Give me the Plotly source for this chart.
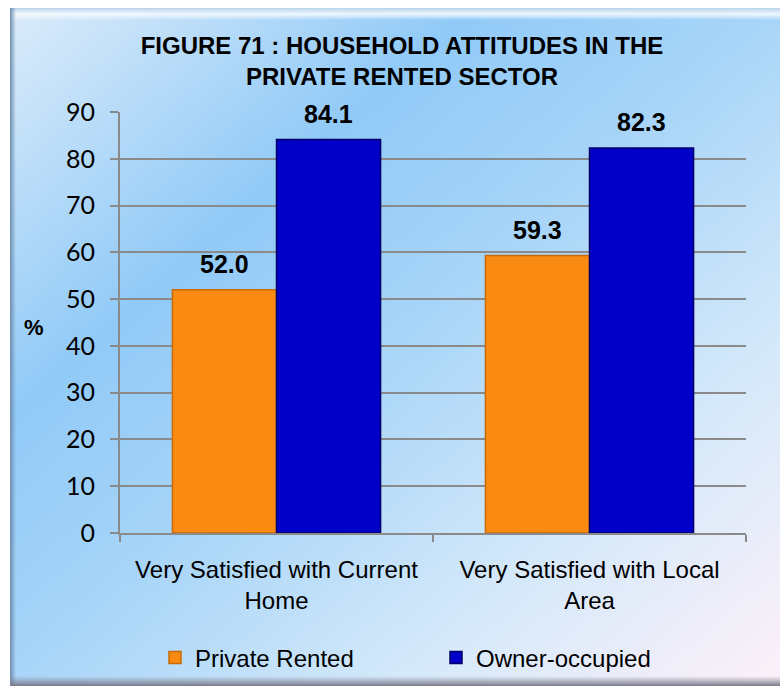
import base64
import plotly.graph_objects as go

categories = ["Very Satisfied with Current<br>Home", "Very Satisfied with Local<br>Area"]
private_rented = [52.0, 59.3]
owner_occupied = [84.1, 82.3]
series_names = ["Private Rented", "Owner-occupied"]
y_ticks = [0, 10, 20, 30, 40, 50, 60, 70, 80, 90]
title_text = "FIGURE 71 : HOUSEHOLD ATTITUDES IN THE<br>PRIVATE RENTED SECTOR"

W, H = 780, 686
ML, MR, MT, MB = 120, 34, 112, 153
PW = W - ML - MR
PH = H - MT - MB

# background panel (gradient) as SVG
svg = f"""<svg xmlns='http://www.w3.org/2000/svg' width='770' height='678' viewBox='0 0 770 678' preserveAspectRatio='none'>
<defs>
<linearGradient id='g' x1='0' y1='0' x2='1' y2='1'>
<stop offset='0' stop-color='#dcecfa'/>
<stop offset='0.3' stop-color='#91caf7'/>
<stop offset='0.5' stop-color='#a8d5f8'/>
<stop offset='0.75' stop-color='#d5e9fa'/>
<stop offset='1' stop-color='#fdf0f8'/>
</linearGradient>
<linearGradient id='l' x1='0' y1='0' x2='1' y2='0'>
<stop offset='0' stop-color='#6f8fb0' stop-opacity='1'/>
<stop offset='1' stop-color='#6f8fb0' stop-opacity='0'/>
</linearGradient>
<linearGradient id='b' x1='0' y1='0' x2='0' y2='1'>
<stop offset='0' stop-color='#8a8a9a' stop-opacity='0'/>
<stop offset='1' stop-color='#7a7a8a' stop-opacity='1'/>
</linearGradient>
<linearGradient id='t' x1='0' y1='0' x2='0' y2='1'>
<stop offset='0' stop-color='#b8d2ea' stop-opacity='1'/>
<stop offset='0.5' stop-color='#f4faff' stop-opacity='0.9'/>
<stop offset='1' stop-color='#ffffff' stop-opacity='0'/>
</linearGradient>
</defs>
<rect x='0' y='0' width='770' height='678' fill='url(#g)'/>
<rect x='0' y='0' width='770' height='12' fill='url(#t)'/>
<rect x='0' y='0' width='6' height='678' fill='url(#l)'/>
<rect x='0' y='668' width='770' height='10' fill='url(#b)'/>
</svg>"""
svg_uri = "data:image/svg+xml;base64," + base64.b64encode(svg.encode()).decode()

def px_x(px):
    return (px - ML) / PW

def px_y(py):
    return (H - MB - py) / PH

fig = go.Figure()
colors = ["#F98B12", "#0000C8"]
line_colors = ["#C86A08", "#000066"]
for name, vals, c, lc in zip(series_names, [private_rented, owner_occupied], colors, line_colors):
    fig.add_trace(go.Bar(
        x=categories, y=vals, name=name,
        marker=dict(color=c, line=dict(color=lc, width=1.5)),
    ))

# data labels
bar_px = PW / len(categories) * (1 - 0.335) / 2
for i, vals in enumerate([private_rented, owner_occupied]):
    shift = (i - 0.5) * bar_px
    for cat, v in zip(categories, vals):
        fig.add_annotation(
            x=cat, y=v, text=f"<b>{v:.1f}</b>", showarrow=False,
            xshift=shift, yshift=10, yanchor="bottom",
            font=dict(family="Liberation Sans, Arial", size=25, color="#000000"),
        )

fig.add_annotation(
    x=px_x(34), y=px_y(327), xref="paper", yref="paper",
    xanchor="center", yanchor="middle",
    text="<b>%</b>", showarrow=False,
    font=dict(family="Liberation Sans, Arial", size=22, color="#000000"),
)

fig.add_layout_image(
    source=svg_uri, xref="paper", yref="paper",
    x=px_x(10), y=px_y(8), sizex=770 / PW, sizey=678 / PH,
    xanchor="left", yanchor="top", sizing="stretch", layer="below",
)

fig.update_layout(
    width=W, height=H,
    margin=dict(l=ML, r=MR, t=MT, b=MB, pad=0, autoexpand=False),
    paper_bgcolor="#ffffff",
    plot_bgcolor="rgba(0,0,0,0)",
    barmode="group", bargap=0.335, bargroupgap=0,
    title=dict(
        text=f"<b>{title_text}</b>", x=402 / W, xanchor="center",
        y=1 - 54 / H, yanchor="top",
        font=dict(family="Liberation Sans, Arial", size=24, color="#000000"),
    ),
    showlegend=True,
    legend=dict(
        orientation="h", x=155 / W, y=1 - 658 / H, xref="container", yref="container",
        xanchor="left", yanchor="middle",
        font=dict(family="Liberation Sans, Arial", size=24, color="#000000"),
        bgcolor="rgba(0,0,0,0)", entrywidth=236, entrywidthmode="pixels",
        traceorder="normal",
    ),
    xaxis=dict(
        automargin=False,
        showgrid=False, showline=True, linecolor="#8a8a8a", linewidth=2,
        ticks="outside", tickson="boundaries", ticklen=7, tickwidth=2, tickcolor="#8a8a8a",
        tickfont=dict(family="Liberation Sans, Arial", size=24, color="#000000"),
        ticklabelstandoff=14,
    ),
    yaxis=dict(
        automargin=False,
        range=[0, 90], tickvals=y_ticks, showgrid=True, gridcolor="#8a8a8a", gridwidth=2,
        showline=True, linecolor="#8a8a8a", linewidth=2, zeroline=False,
        ticks="outside", ticklen=8, tickwidth=2, tickcolor="#8a8a8a",
        tickfont=dict(family="Lato, Carlito, sans-serif", size=25, color="#000000"),
        ticklabelstandoff=10,
    ),
)

fig.write_html(
    "out.html",
    config={"displayModeBar": False},
    post_script="document.body.style.margin='0';document.body.style.overflow='hidden';",
)
